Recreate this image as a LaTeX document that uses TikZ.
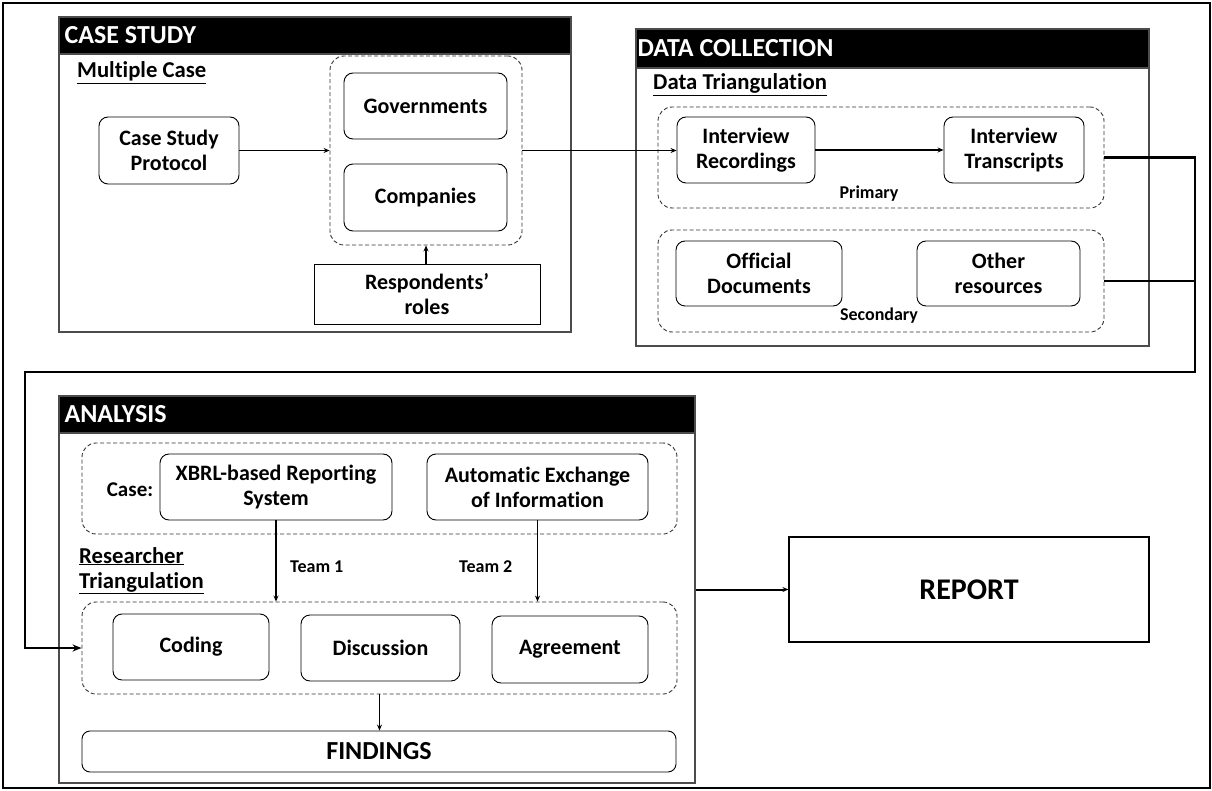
\documentclass[tikz,border=0pt]{standalone}
\usepackage{fontspec}
\setmainfont{Carlito}[Ligatures=NoCommon]
\usetikzlibrary{arrows.meta}
\begin{document}
\begin{tikzpicture}[x=1pt,y=-1pt,
  box/.style={draw, rounded corners=9pt, line width=0.9pt, align=center, inner sep=0pt,
    font=\fontsize{22}{25}\selectfont\bfseries},
  group/.style={draw=black!80, dash pattern=on 4pt off 2.5pt, rounded corners=14pt,
    line width=0.9pt, inner sep=0pt},
  panelbox/.style={draw=black!70, line width=1.2pt, inner sep=0pt},
  header/.style={fill=black, draw=black!70, line width=1.2pt, inner sep=0pt, anchor=north west},
  headtext/.style={text=white, inner sep=0pt, font=\fontsize{26}{30}\selectfont\bfseries, anchor=west},
  sublabel/.style={inner sep=0pt, font=\fontsize{22.7}{26}\selectfont\bfseries, anchor=base west},
  smalltext/.style={inner sep=0pt, font=\fontsize{18}{21}\selectfont\bfseries},
  flow/.style={-{Stealth[length=6pt,width=5pt]}, line width=1.3pt},
  link/.style={line width=2.6pt}]
\useasboundingbox (0,0) rectangle (1212,791);
% outer frame
\draw[line width=2.2pt] (3,3) rectangle (1210,788);

% ---------- CASE STUDY ----------
\node[panelbox, minimum width=512pt, minimum height=315pt] (cs) at (315,174.5) {};
\node[header, minimum width=512pt, minimum height=37pt] (csh) at (cs.north west) {};
\node[headtext] (cst) at ([xshift=6pt]csh.west) {CASE STUDY};
\node[sublabel] (mc) at (77,78) {\underline{Multiple Case}};
\node[box, minimum width=140pt, minimum height=67pt] (proto) at (169,150.5) {Case Study\\Protocol};
\node[group, minimum width=192pt, minimum height=189pt] (cases) at (426,150.5) {};
\node[box, minimum width=163pt, minimum height=66pt] (gov) at (425.5,106) {Governments};
\node[box, minimum width=163pt, minimum height=67pt] (comp) at (425.5,197.5) {Companies};
\node[box, rounded corners=0pt, minimum width=226pt, minimum height=60pt] (resp) at (427,294) {Respondents'\\roles};
\draw[flow] (proto.east) -- (cases.west);
\draw[flow] (cases.south |- resp.north) -- (cases.south);

% ---------- DATA COLLECTION ----------
\node[panelbox, minimum width=513pt, minimum height=317pt] (dc) at (892.5,187.5) {};
\node[header, minimum width=513pt, minimum height=39pt] (dch) at (dc.north west) {};
\node[headtext] (dct) at ([xshift=2pt]dch.west) {DATA COLLECTION};
\node[sublabel] (dt) at (653,90) {\underline{Data Triangulation}};
\node[group, minimum width=446pt, minimum height=101pt] (prim) at (881,157.5) {};
\node[box, minimum width=138pt, minimum height=66pt] (rec) at (746,150) {Interview\\Recordings};
\node[box, minimum width=140pt, minimum height=66pt] (trans) at (1014,150) {Interview\\Transcripts};
\node[smalltext] (priml) at (869,194) {Primary};
\node[group, minimum width=446pt, minimum height=102pt] (sec) at (881,281) {};
\node[box, minimum width=166pt, minimum height=65pt] (off) at (759,273.5) {Official\\Documents};
\node[box, minimum width=163pt, minimum height=65pt] (oth) at (998.5,273.5) {Other\\resources};
\node[smalltext] (secl) at (879,316) {Secondary};
\draw[flow] (cases.east) -- (cases.east -| rec.west);
\draw[flow] (rec.east) -- (trans.west);

% ---------- ANALYSIS ----------
\node[panelbox, minimum width=636pt, minimum height=387pt] (an) at (377,589.5) {};
\node[header, minimum width=636pt, minimum height=37pt] (anh) at (an.north west) {};
\node[headtext] (ant) at ([xshift=6pt]anh.west) {ANALYSIS};
\node[group, minimum width=595pt, minimum height=91pt] (casegrp) at (379.5,488.5) {};
\node[inner sep=0pt, font=\fontsize{21}{25}\selectfont\bfseries] (casel) at (130,490) {Case:};
\node[box, minimum width=232pt, minimum height=66pt] (xbrl) at (276,487) {XBRL-based Reporting\\System};
\node[box, minimum width=221pt, minimum height=66pt] (aeoi) at (537.5,487) {Automatic Exchange\\of Information};
\node[sublabel] (rt1) at (79,563) {\underline{Researcher}};
\node[sublabel] (rt2) at (79,588) {\underline{Triangulation}};
\node[smalltext, anchor=west] (t1) at (290,567) {Team 1};
\node[smalltext, anchor=west] (t2) at (459,567) {Team 2};
\node[group, minimum width=595pt, minimum height=92pt] (rgrp) at (379.5,648) {};
\node[box, minimum width=156pt, minimum height=66pt] (cod) at (191,647) {Coding};
\node[box, minimum width=159pt, minimum height=66pt] (disc) at (380.5,648) {Discussion};
\node[box, minimum width=156pt, minimum height=67pt] (agr) at (570,649.5) {Agreement};
\node[box, rounded corners=8pt, minimum width=594pt, minimum height=41pt,
  font=\fontsize{26}{30}\selectfont\bfseries] (find) at (379,751.5) {FINDINGS};
\draw[flow] (xbrl.south) -- (xbrl.south |- rgrp.north);
\draw[flow] (aeoi.south) -- (aeoi.south |- rgrp.north);
\draw[flow] (rgrp.south) -- (rgrp.south |- find.north);

% ---------- REPORT ----------
\node[draw, line width=1.2pt, inner sep=0pt, minimum width=360pt, minimum height=105pt,
  font=\fontsize{30}{34}\selectfont\bfseries] (rep) at (969,589.5) {REPORT};
\draw[flow, line width=2pt] (an.east) -- (rep.west);

% ---------- link from data collection to analysis ----------
\coordinate (bus) at (1195,372);
\coordinate (lft) at (25,372);
\draw[link] (sec.east) -- (sec.east -| bus);
\draw[link, -{Stealth[length=9pt,width=7pt]}] (prim.east) -| (bus) -- (lft) |- (rgrp.west);
\end{tikzpicture}
\end{document}
